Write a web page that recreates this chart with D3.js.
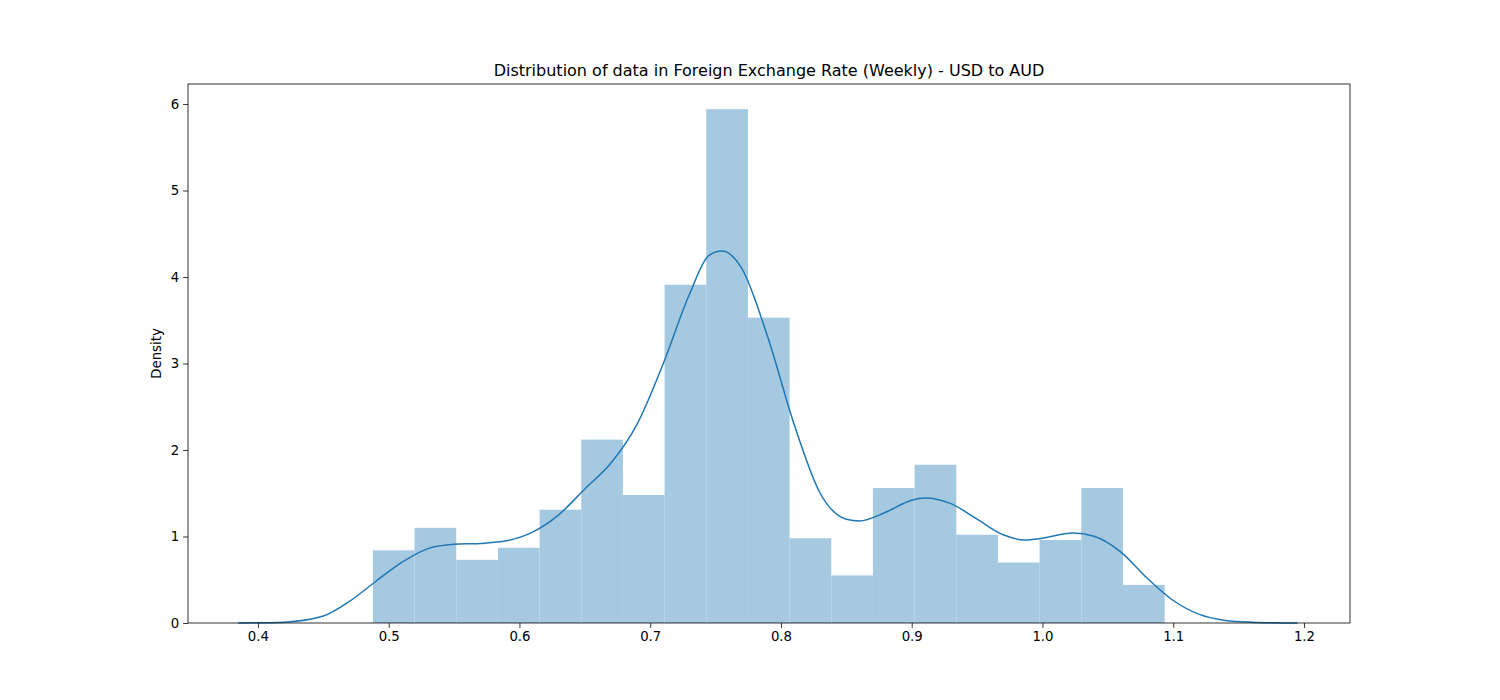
<!DOCTYPE html>
<html><head><meta charset="utf-8">
<script src="https://cdn.jsdelivr.net/npm/d3@7"></script>
<style>body{margin:0;background:#fff}svg{font-family:"DejaVu Sans",sans-serif}</style>
</head><body><svg id="c" width="1500" height="700"></svg>
<script>
const binStart = 0.4879, binWidth = 0.03187;
const binHeights = [0.84,1.10,0.73,0.87,1.31,2.12,1.48,3.91,5.94,3.53,0.98,0.55,1.56,1.83,1.02,0.70,0.96,1.56,0.44];
const kdeX = [0.385,0.42,0.45,0.47,0.49,0.51,0.53,0.55,0.57,0.59,0.61,0.63,0.65,0.67,0.69,0.71,0.73,0.745,0.755,0.77,0.79,0.81,0.83,0.85,0.86,0.88,0.90,0.91,0.93,0.95,0.97,0.986,1.0,1.023,1.04,1.06,1.08,1.10,1.12,1.14,1.16,1.195];
const kdeY = [0,0.01,0.08,0.25,0.48,0.7,0.86,0.91,0.92,0.95,1.05,1.25,1.55,1.85,2.3,3.0,3.8,4.25,4.3,4.1,3.3,2.3,1.5,1.2,1.18,1.28,1.42,1.445,1.38,1.2,1.02,0.96,0.98,1.04,1.0,0.82,0.52,0.26,0.1,0.03,0.01,0];
const xTicks = [0.4,0.5,0.6,0.7,0.8,0.9,1.0,1.1,1.2];
const yTicks = [0,1,2,3,4,5,6];

const L=188,R=1350,T=84,B=623;
const x=d3.scaleLinear().domain([0.3465,1.2352]).range([L,R]);
const y=d3.scaleLinear().domain([0,6.231]).range([B,T]);
const svg=d3.select("#c");
svg.selectAll("rect.bar").data(binHeights).join("rect").attr("class","bar")
 .attr("x",(d,i)=>x(binStart+i*binWidth)).attr("width",(d,i)=>x(binStart+(i+1)*binWidth)-x(binStart+i*binWidth))
 .attr("y",d=>y(d)).attr("height",d=>y(0)-y(d)).attr("fill","#a5c9e1");
svg.append("path").datum(kdeX.map((v,i)=>[v,kdeY[i]]))
 .attr("d",d3.line().x(d=>x(d[0])).y(d=>y(d[1])).curve(d3.curveMonotoneX))
 .attr("fill","none").attr("stroke","#1f77b4").attr("stroke-width",1.5);
svg.append("rect").attr("x",L).attr("y",T).attr("width",R-L).attr("height",B-T).attr("fill","none").attr("stroke","#000").attr("stroke-width",0.8);
const xa=svg.append("g").attr("transform",`translate(0,${B})`).call(d3.axisBottom(x).tickValues(xTicks).tickFormat(d3.format(".1f")).tickSize(4.9).tickPadding(4));
const ya=svg.append("g").attr("transform",`translate(${L},0)`).call(d3.axisLeft(y).tickValues(yTicks).tickFormat(d3.format("d")).tickSize(4.9).tickPadding(4));
[xa,ya].forEach(a=>{a.select(".domain").remove();a.selectAll("text").attr("font-size",13.3).attr("fill","#000").attr("font-family","DejaVu Sans");a.selectAll("line").attr("stroke","#000").attr("stroke-width",0.8);});
svg.append("text").attr("x",(L+R)/2).attr("y",76).attr("text-anchor","middle").attr("font-size",16).text("Distribution of data in Foreign Exchange Rate (Weekly) - USD to AUD");
svg.append("text").attr("transform",`translate(161,${(T+B)/2}) rotate(-90)`).attr("text-anchor","middle").attr("font-size",13.3).text("Density");
</script></body></html>
